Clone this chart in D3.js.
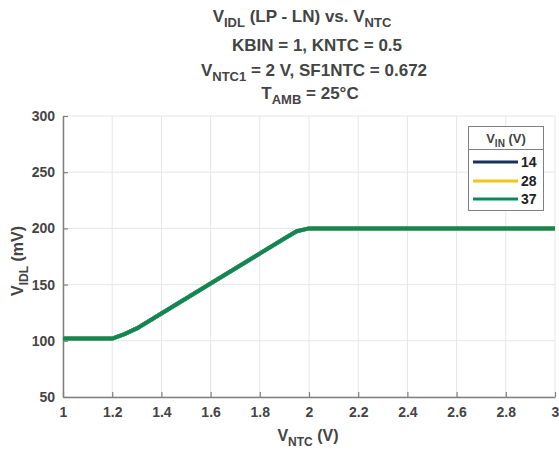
<!DOCTYPE html>
<html><head><meta charset="utf-8">
<script src="https://cdn.jsdelivr.net/npm/d3@7"></script>
<style>body{margin:0;background:#fff}svg{display:block;font-family:"Liberation Sans",Arial,sans-serif}</style>
</head><body><svg id="c" width="559" height="450"></svg>
<script>
const vntc = [1.0, 1.2, 1.25, 1.3, 1.6, 1.9, 1.95, 2.0, 2.5, 3.0];
const vidl14 = [102, 102, 106, 111, 151, 191, 197.5, 200, 200, 200];
const vidl28 = [102, 102, 106, 111, 151, 191, 197.5, 200, 200, 200];
const vidl37 = [102, 102, 106, 111, 151, 191, 197.5, 200, 200, 200];
const seriesNames = ["14", "28", "37"];
const seriesColors = ["#14325c", "#f2c318", "#0f875c"];
const xTicks = [1, 1.2, 1.4, 1.6, 1.8, 2, 2.2, 2.4, 2.6, 2.8, 3];
const yTicks = [50, 100, 150, 200, 250, 300];

const svg = d3.select("#c");
const L = 63, R = 555, T = 116, B = 397;
const x = d3.scaleLinear().domain([1, 3]).range([L, R]);
const y = d3.scaleLinear().domain([50, 300]).range([B, T]);
const txt = "#444";

// grid
svg.append("g").selectAll("line").data(xTicks).join("line")
  .attr("x1", d => x(d)).attr("x2", d => x(d)).attr("y1", T).attr("y2", B)
  .attr("stroke", "#e6e6e6").attr("stroke-width", 1);
svg.append("g").selectAll("line").data(yTicks).join("line")
  .attr("x1", L).attr("x2", R).attr("y1", d => y(d)).attr("y2", d => y(d))
  .attr("stroke", "#e6e6e6").attr("stroke-width", 1);

// axes
const xa = svg.append("g").attr("transform", `translate(0,${B})`)
  .call(d3.axisBottom(x).tickValues(xTicks).tickSizeInner(-5).tickSizeOuter(0).tickPadding(10).tickFormat(d3.format("~g")));
const ya = svg.append("g").attr("transform", `translate(${L},0)`)
  .call(d3.axisLeft(y).tickValues(yTicks).tickSizeInner(-5).tickSizeOuter(0).tickPadding(8));
[xa, ya].forEach(a => {
  a.select(".domain").attr("stroke", "#808080").attr("stroke-width", 1.5);
  a.selectAll(".tick line").attr("stroke", "#808080").attr("stroke-width", 1.2);
  a.selectAll("text").attr("fill", txt).attr("font-size", 14).attr("font-weight", "bold")
   .attr("font-family", "'Liberation Sans',Arial,sans-serif");
});

// lines
const data = [vidl14, vidl28, vidl37];
const line = d3.line().x((d, i) => x(vntc[i])).y(d => y(d));
data.forEach((s, k) => {
  svg.append("path").datum(s).attr("d", line).attr("fill", "none")
    .attr("stroke", seriesColors[k]).attr("stroke-width", 4).attr("stroke-linejoin", "round");
});

function richText(xp, yp, parts, size, subSize, anchor) {
  const t = svg.append("text").attr("x", xp).attr("y", yp).attr("text-anchor", anchor || "middle")
    .attr("font-size", size).attr("font-weight", "bold").attr("fill", txt);
  let shifted = false;
  parts.forEach(([s, sub]) => {
    const ts = t.append("tspan").text(s);
    if (sub && !shifted) { ts.attr("font-size", subSize).attr("dy", size * 0.3); shifted = true; }
    else if (!sub && shifted) { ts.attr("dy", -size * 0.3); shifted = false; }
    else if (sub) ts.attr("font-size", subSize);
  });
  return t;
}

// title
richText(302, 22, [["V"], ["IDL", 1], [" (LP - LN) vs. V"], ["NTC", 1]], 17, 13);
richText(317, 51, [["KBIN = 1, KNTC = 0.5"]], 17, 13);
richText(314, 76, [["V"], ["NTC1", 1], [" = 2 V, SF1NTC = 0.672"]], 17, 13);
richText(310, 99, [["T"], ["AMB", 1], [" = 25°C"]], 17, 13);

// axis labels
richText(308, 441, [["V"], ["NTC", 1], [" (V)"]], 16, 12);
richText(0, 0, [["V"], ["IDL", 1], [" (mV)"]], 16, 12)
  .attr("transform", "translate(23,261) rotate(-90)");

// legend
const lg = svg.append("g");
lg.append("rect").attr("x", 468.5).attr("y", 126.5).attr("width", 75).attr("height", 84)
  .attr("fill", "#fff").attr("stroke", "#808080").attr("stroke-width", 1);
lg.append("line").attr("x1", 468.5).attr("x2", 543.5).attr("y1", 149.5).attr("y2", 149.5)
  .attr("stroke", "#808080").attr("stroke-width", 1);
richText(506, 143, [["V"], ["IN", 1], [" (V)"]], 13, 10);
const ly = [162, 181, 199];
seriesNames.forEach((n, k) => {
  lg.append("line").attr("x1", 473).attr("x2", 518).attr("y1", ly[k]).attr("y2", ly[k])
    .attr("stroke", seriesColors[k]).attr("stroke-width", 3);
  lg.append("text").attr("x", 521).attr("y", ly[k] + 5).text(n)
    .attr("font-size", 14).attr("font-weight", "bold").attr("fill", "#222");
});
</script></body></html>
